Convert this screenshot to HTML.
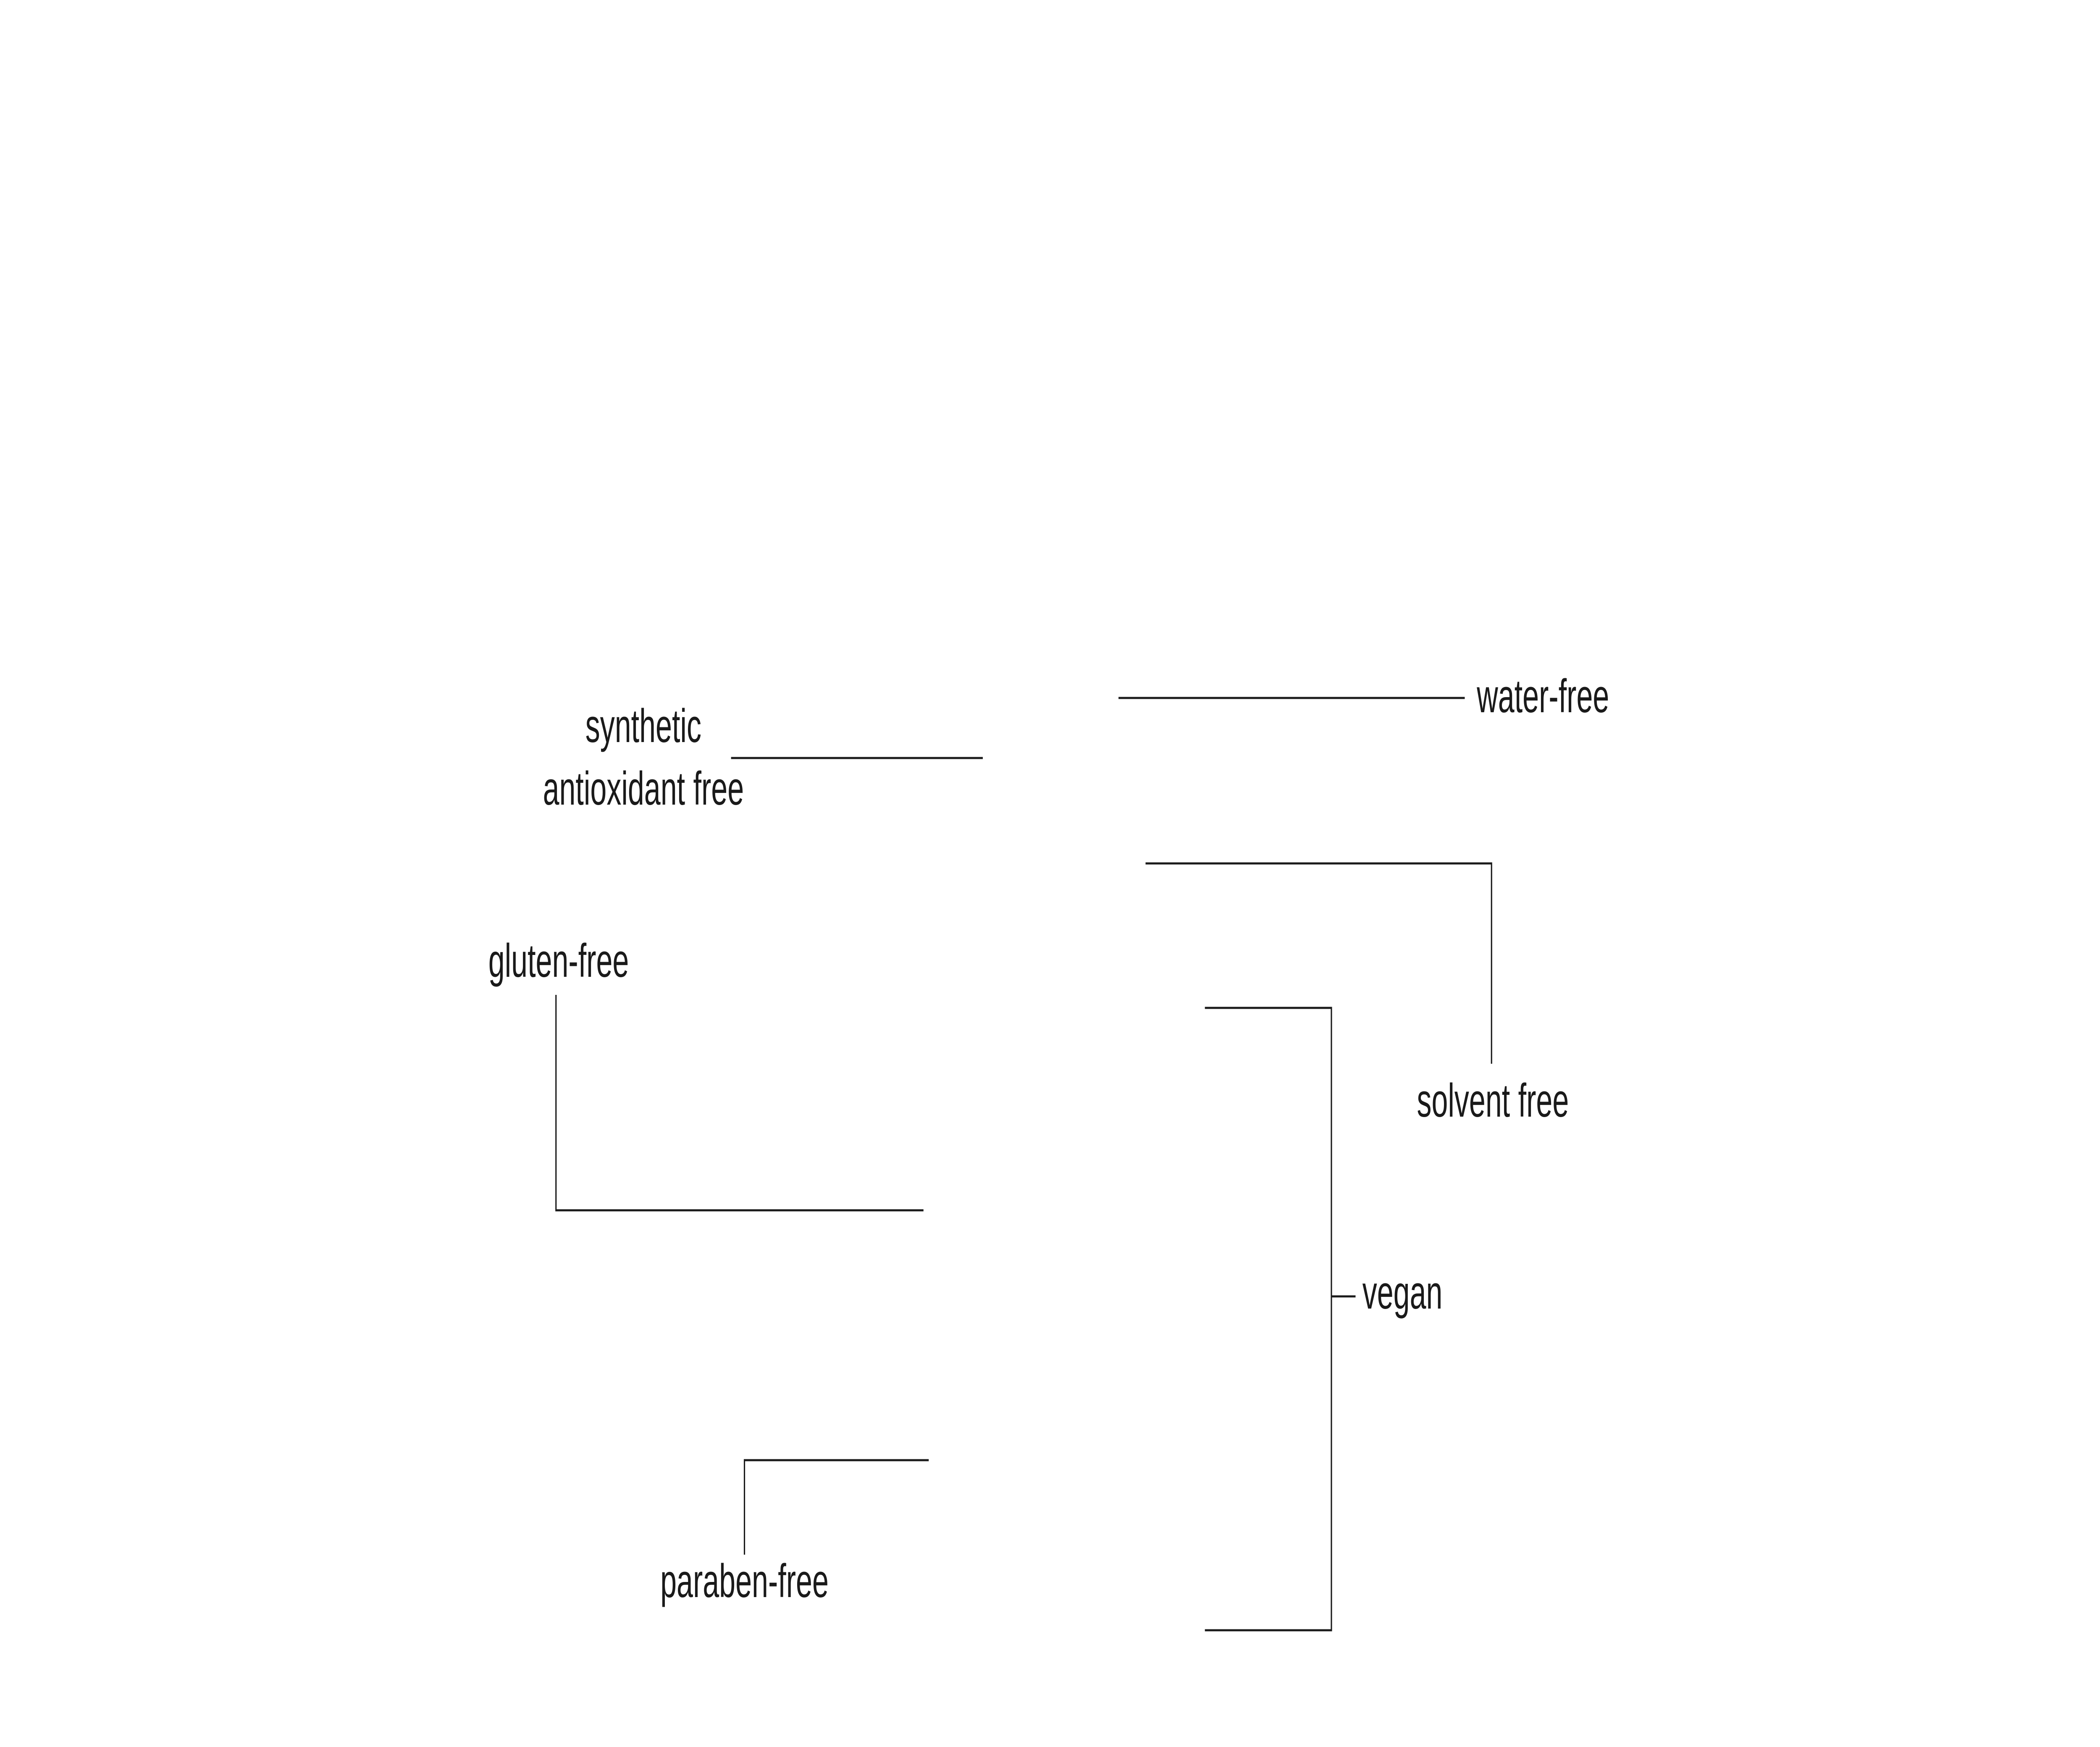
<!DOCTYPE html>
<html><head><meta charset="utf-8">
<style>html,body{margin:0;padding:0;background:#fff;width:100%;height:100%;overflow:hidden}svg{display:block;width:100vw;height:100vh}</style></head>
<body>
<svg viewBox="0 0 8000 4160" preserveAspectRatio="none" xmlns="http://www.w3.org/2000/svg">
<rect width="8000" height="4160" fill="#fff"/>
<g fill="none" stroke="#1a1a1a" stroke-width="5">
<line x1="4261" y1="1662" x2="5580" y2="1662"/>
<line x1="2785" y1="1805" x2="3744" y2="1805"/>
<polyline points="4364,2056 5682,2056 5682,2533"/>
<polyline points="2118,2369 2118,2882 3518,2882"/>
<polyline points="4590,2400 5072,2400 5072,3882 4590,3882"/>
<line x1="5072" y1="3087" x2="5164" y2="3087"/>
<polyline points="3538,3477 2836,3477 2836,3702"/>
</g>
<g font-family="'Liberation Sans', sans-serif" font-size="112" fill="#1a1a1a" dominant-baseline="central">
<text x="5626" y="1657">water-free</text>
<text x="2451" y="1728" text-anchor="middle">synthetic</text>
<text x="2451" y="1877" text-anchor="middle">antioxidant free</text>
<text x="5687" y="2620" text-anchor="middle">solvent free</text>
<text x="2128" y="2287" text-anchor="middle">gluten-free</text>
<text x="5190" y="3077">vegan</text>
<text x="2836" y="3764" text-anchor="middle">paraben-free</text>
</g>
</svg>
</body></html>
